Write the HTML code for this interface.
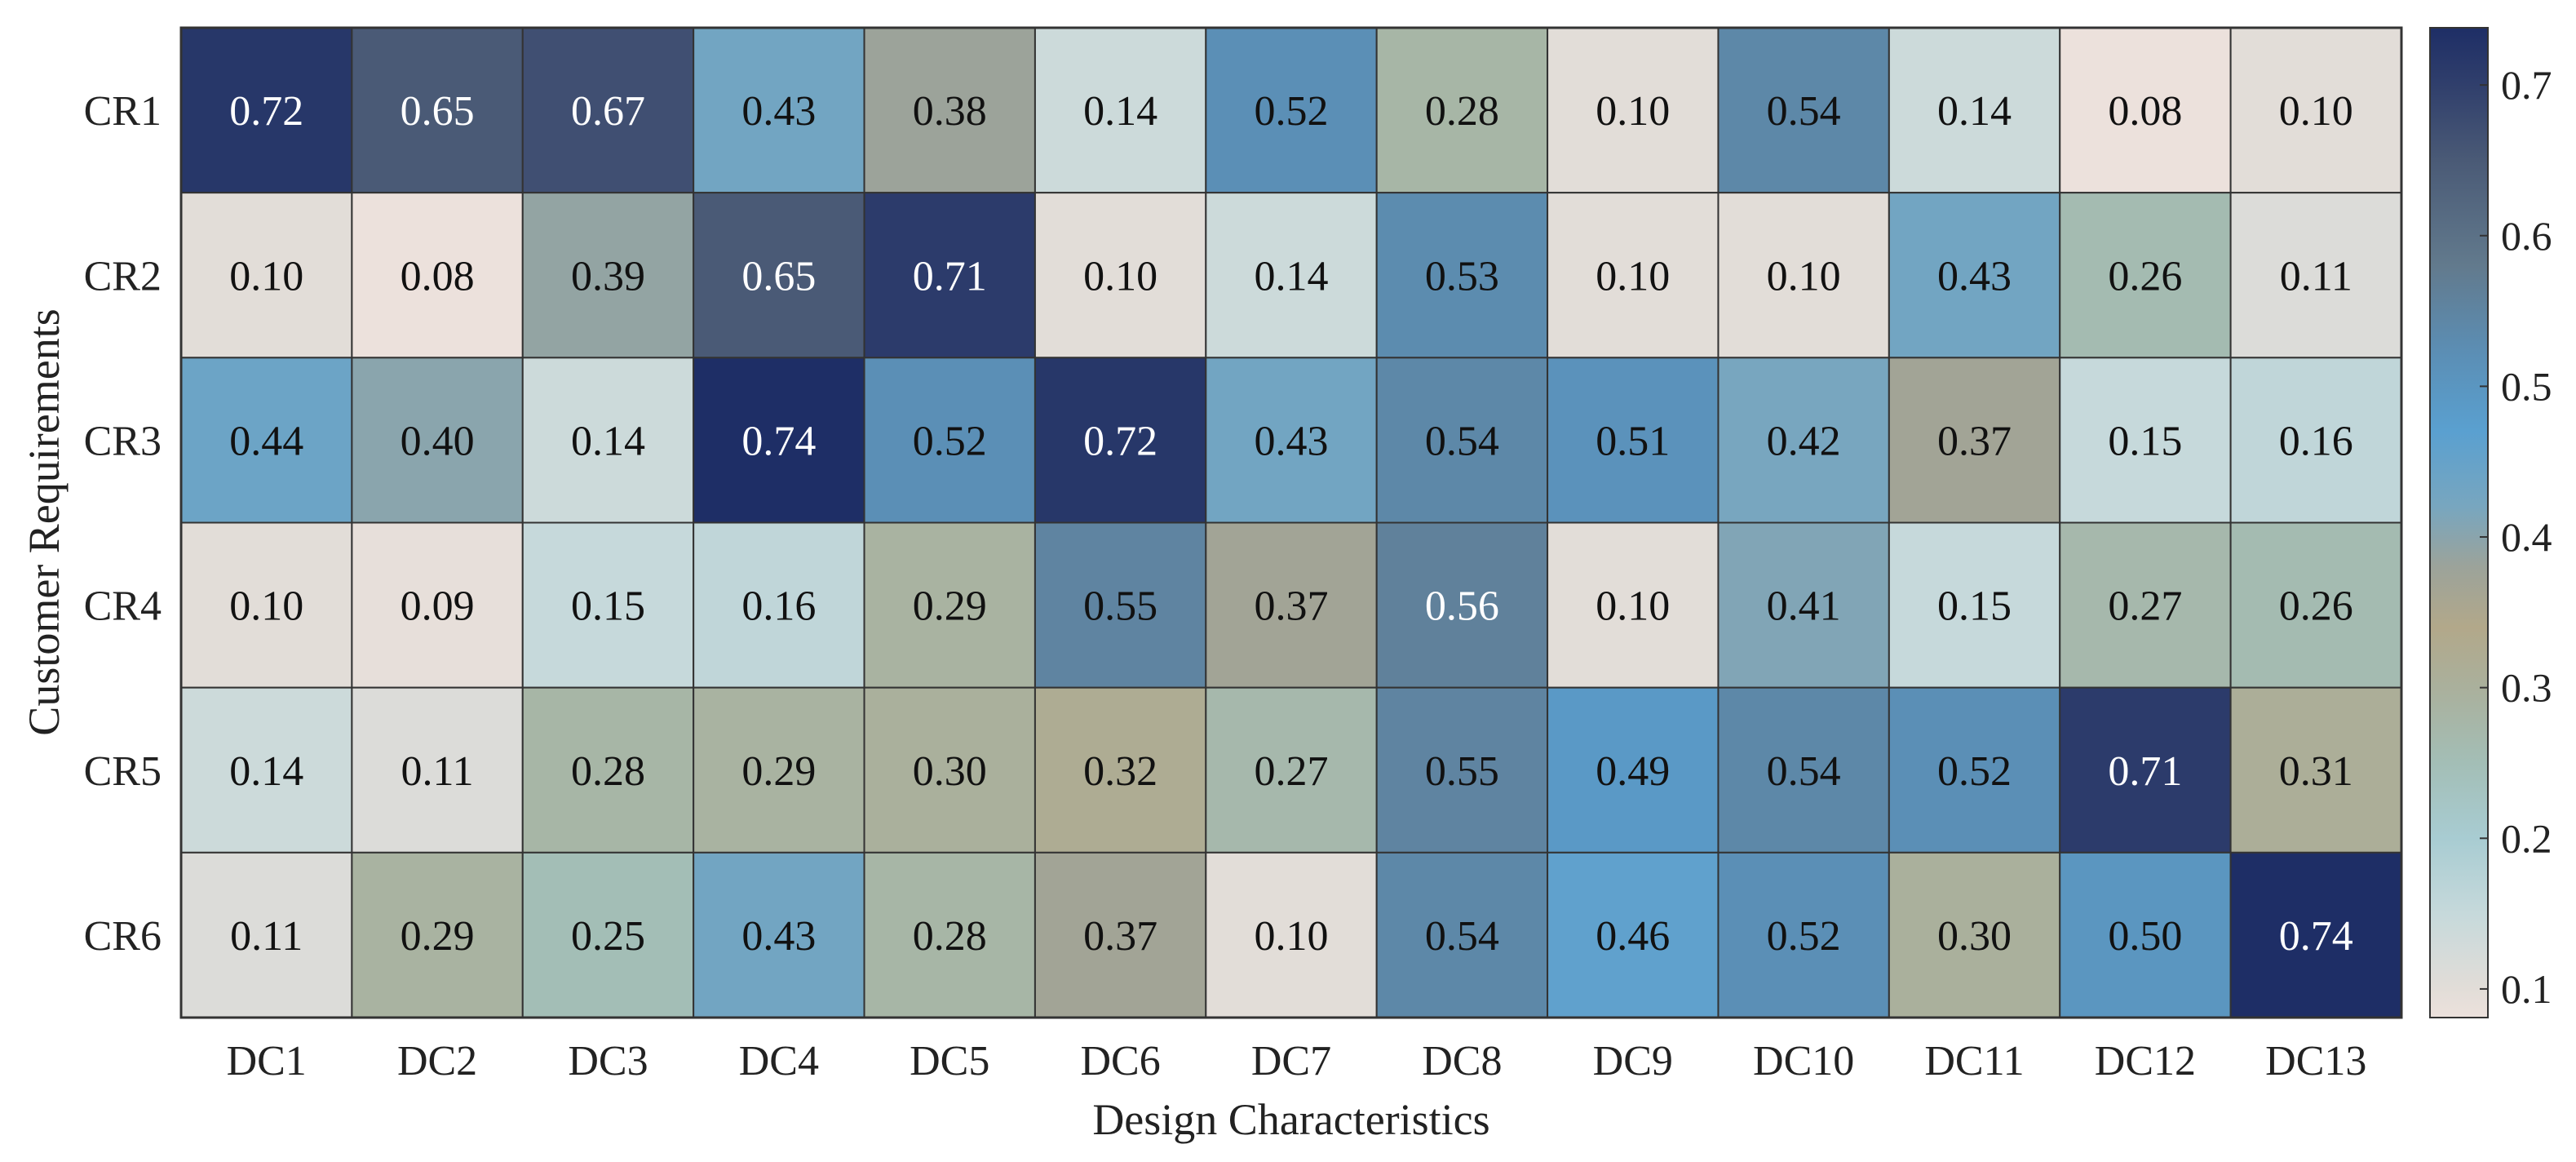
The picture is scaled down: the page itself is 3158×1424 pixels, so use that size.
<!DOCTYPE html>
<html><head><meta charset="utf-8"><style>
html,body{margin:0;padding:0;background:#fff;}
svg{display:block;font-family:"Liberation Serif",serif;}
</style></head><body>
<svg id="chart" width="3158" height="1424" viewBox="0 0 3158 1424" xmlns="http://www.w3.org/2000/svg">
<defs>
<linearGradient id="cbgrad" x1="0" y1="1" x2="0" y2="0"></linearGradient>
</defs>
<g id="cells"></g>
<g id="xticks"></g>
<g id="yticks"></g>
<text x="1583" y="1390" font-size="54" text-anchor="middle" fill="#222">Design Characteristics</text>
<text x="0" y="0" font-size="54" text-anchor="middle" fill="#222" transform="translate(72,640) rotate(-90)">Customer Requirements</text>
<g id="colorbar"></g>
</svg>
<script>
const categoriesX = ["DC1","DC2","DC3","DC4","DC5","DC6","DC7","DC8","DC9","DC10","DC11","DC12","DC13"];
const categoriesY = ["CR1","CR2","CR3","CR4","CR5","CR6"];
const rowCR1 = [0.72,0.65,0.67,0.43,0.38,0.14,0.52,0.28,0.10,0.54,0.14,0.08,0.10];
const rowCR2 = [0.10,0.08,0.39,0.65,0.71,0.10,0.14,0.53,0.10,0.10,0.43,0.26,0.11];
const rowCR3 = [0.44,0.40,0.14,0.74,0.52,0.72,0.43,0.54,0.51,0.42,0.37,0.15,0.16];
const rowCR4 = [0.10,0.09,0.15,0.16,0.29,0.55,0.37,0.56,0.10,0.41,0.15,0.27,0.26];
const rowCR5 = [0.14,0.11,0.28,0.29,0.30,0.32,0.27,0.55,0.49,0.54,0.52,0.71,0.31];
const rowCR6 = [0.11,0.29,0.25,0.43,0.28,0.37,0.10,0.54,0.46,0.52,0.30,0.50,0.74];
const values = [rowCR1,rowCR2,rowCR3,rowCR4,rowCR5,rowCR6];
const colorTicks = [0.1,0.2,0.3,0.4,0.5,0.6,0.7];
const cmin = 0.081, cmax = 0.738;
const cmapStops = [[0.08,"#ece1dc"],[0.10,"#e2ddd8"],[0.15,"#c6d9db"],[0.20,"#a8ccd2"],[0.25,"#a3beb6"],[0.30,"#aab09c"],[0.34,"#b2a88a"],[0.38,"#9ca39a"],[0.42,"#78a6bf"],[0.47,"#5aa0d0"],[0.52,"#5b8fb6"],[0.58,"#627a8d"],[0.65,"#4a5a76"],[0.70,"#303f6c"],[0.74,"#1e2e66"]];

const NS="http://www.w3.org/2000/svg";
const L=222,R=2944,T=34,B=1247;
const cw=(R-L)/categoriesX.length, ch=(B-T)/categoriesY.length;
const xPos=i=>L+i*cw, yPos=j=>T+j*ch;
const cbX=2979,cbW=71;
const cbY=v=>B-(v-cmin)/(cmax-cmin)*(B-T);
function hex(c){return [1,3,5].map(k=>parseInt(c.substr(k,2),16));}
function color(v){
  if(v<=cmapStops[0][0])return cmapStops[0][1];
  for(let k=1;k<cmapStops.length;k++){
    if(v<=cmapStops[k][0]){
      const [a,ca]=cmapStops[k-1],[b,cb]=cmapStops[k];
      const t=(v-a)/(b-a),A=hex(ca),Bc=hex(cb);
      return "rgb("+A.map((x,i)=>Math.round(x+(Bc[i]-x)*t)).join(",")+")";
    }
  }
  return cmapStops[cmapStops.length-1][1];
}
function mk(tag,attrs,parent){const e=document.createElementNS(NS,tag);for(const k in attrs)e.setAttribute(k,attrs[k]);parent.appendChild(e);return e;}
const cells=document.getElementById("cells");
values.forEach((row,j)=>row.forEach((v,i)=>{
  const r=mk("rect",{x:xPos(i),y:yPos(j),width:cw,height:ch,fill:color(v),stroke:"#333","stroke-width":2},cells);
  
  
  const t=mk("text",{x:xPos(i)+cw/2,y:yPos(j)+ch/2+18,"font-size":52,"text-anchor":"middle",fill:v>=0.56?"#fff":"#111"},cells);
  
  
  t.textContent=v.toFixed(2);
}));
mk("rect",{x:L,y:T,width:R-L,height:B-T,fill:"none",stroke:"#333","stroke-width":3},cells);
const xt=document.getElementById("xticks");
categoriesX.forEach((c,i)=>{
  const t=mk("text",{x:xPos(i)+cw/2,y:1317,"font-size":52,"text-anchor":"middle",fill:"#222"},xt);
  
  
  t.textContent=c;
});
const yt=document.getElementById("yticks");
categoriesY.forEach((c,j)=>{
  const t=mk("text",{x:198,y:yPos(j)+ch/2+18,"font-size":52,"text-anchor":"end",fill:"#222"},yt);
  
  
  t.textContent=c;
});
const g=document.getElementById("cbgrad");
cmapStops.forEach(([v,c])=>{
  const off=Math.min(1,Math.max(0,(v-cmin)/(cmax-cmin)));
  mk("stop",{offset:off,"stop-color":c},g);
});
const cb=document.getElementById("colorbar");
const bar=mk("rect",{x:cbX,y:T,width:cbW,height:B-T,fill:"url(#cbgrad)",stroke:"#333","stroke-width":2},cb);


colorTicks.forEach(v=>{
  const y=cbY(v);
  const tk=mk("line",{x1:cbX+cbW-10,x2:cbX+cbW,y1:y,y2:y,stroke:"#333","stroke-width":2},cb);
  
  
  const t=mk("text",{x:3066,y:y+17,"font-size":50,fill:"#222"},cb);
  
  
  t.textContent=String(v);
});
</script>
</body></html>
